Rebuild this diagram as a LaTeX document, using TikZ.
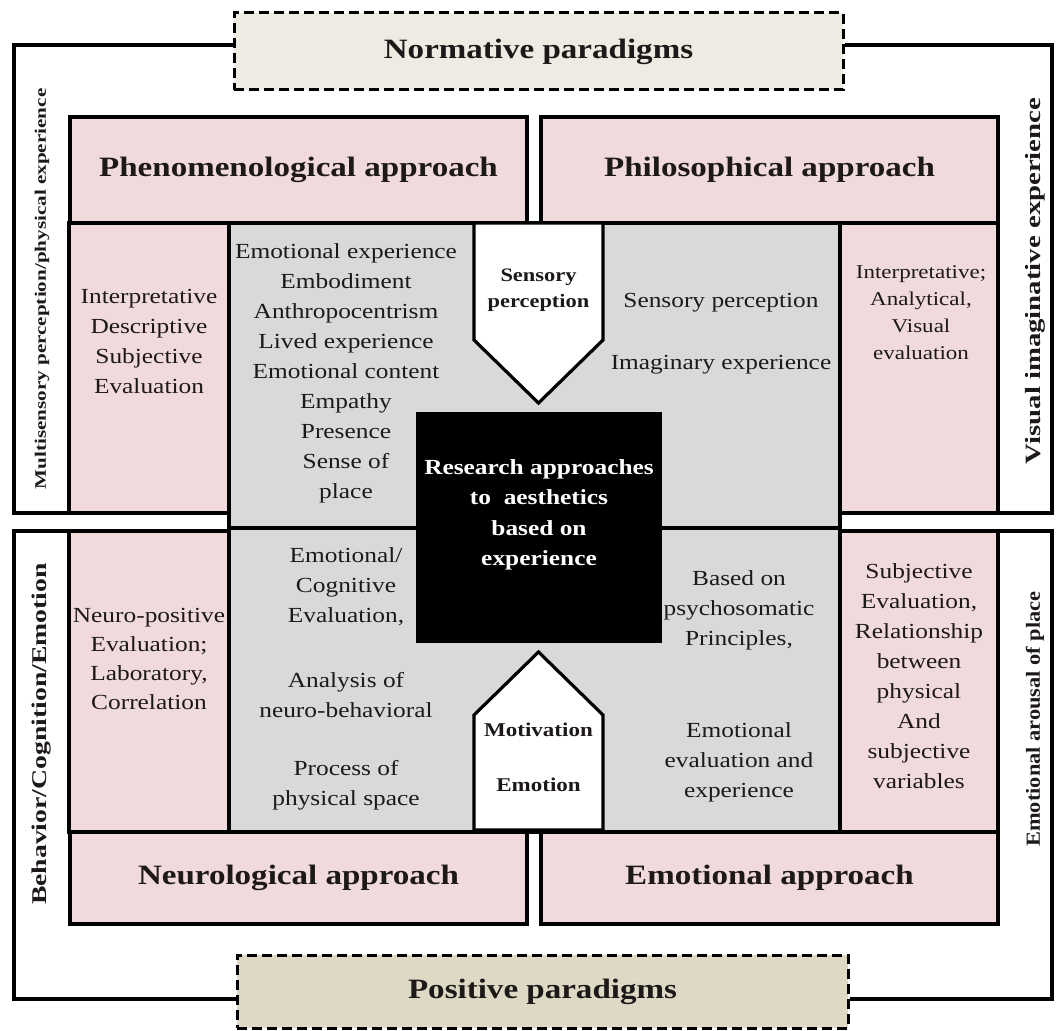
\documentclass[tikz,border=0pt]{standalone}
\usepackage{fontspec}
\setmainfont{Liberation Serif}[FakeStretch=1.18]
\newfontfamily\sidefont{Liberation Serif}[FakeStretch=1.32]
\newfontfamily\sidefontn{Liberation Serif}[FakeStretch=1.12]
\definecolor{pnkcol}{RGB}{240,218,219}
\definecolor{grycol}{RGB}{217,217,217}
\definecolor{normcol}{RGB}{238,236,226}
\definecolor{posicol}{RGB}{221,217,197}
\definecolor{ink}{RGB}{30,25,25}

\begin{document}
\begin{tikzpicture}
      [x=1pt,y=-1pt
      ,ln/.style={line width=3.2pt,line join=miter}
      ,frm/.style={ln,draw=black}
      ,pnk/.style={ln,draw=black,fill=pnkcol}
      ,gry/.style={ln,draw=black,fill=grycol}
      ,arw/.style={ln,draw=black,fill=white}
      ,dsh/.style={line width=3pt,draw=black,dash pattern=on 10pt off 5pt}
      ,ttl/.style={pnk,font=\fontsize{28}{34}\selectfont\bfseries,text=ink}
      ,txt/.style={font=\fontsize{21.5}{30}\selectfont,align=center,text=ink}
      ,side/.style={rotate=90,font=\sidefont\bfseries,text=ink}
      ]
        \useasboundingbox (0,0) rectangle (1056,1030);
        % grey centre field
        \draw[gry] (229,223) rectangle (840,832);
        \foreach \a/\b in {229/416,662/840}{
          \draw[frm] (\a,528) -- (\b,528);
        }
        % side columns
        \draw[pnk] (69,223) rectangle (229,513);
        \draw[pnk] (69,531) rectangle (229,832);
        \draw[pnk] (840,223) rectangle (998,513);
        \draw[pnk] (840,531) rectangle (998,832);
        % approach titles
        \node[ttl,minimum width=457,minimum height=106] (phen) at (298.5,170) {Phenomenological approach};
        \node[ttl,minimum width=457,minimum height=106] (phil) at (769.5,170) {Philosophical approach};
        \node[ttl,minimum width=457,minimum height=92] (neur) at (298.5,878) {Neurological approach};
        \node[ttl,minimum width=457,minimum height=92] (emot) at (769.5,878) {Emotional approach};
        % paradigms
        \node[dsh,fill=normcol,minimum width=609,minimum height=77,font=\fontsize{28}{34}\selectfont\bfseries,text=ink] (norm) at (538.5,51.5) {Normative paradigms};
        \node[dsh,fill=posicol,minimum width=611,minimum height=73,font=\fontsize{28}{34}\selectfont\bfseries,text=ink] (posi) at (542.5,991.5) {Positive paradigms};
        % brackets
        \draw[frm] (norm.west |- 14,45) -- (14,45) -- (14,513) -- (69,513);
        \draw[frm] (norm.east |- 14,45) -- (1052,45) -- (1052,513) -- (998,513);
        \draw[frm] (posi.west |- 14,999) -- (14,999) -- (14,531) -- (69,531);
        \draw[frm] (posi.east |- 14,999) -- (1052,999) -- (1052,531) -- (998,531);
        % centre
        \node[fill=black,minimum width=246,minimum height=231] (core) at (539,527.5) {};
        \node[font=\fontsize{21.5}{30.5}\selectfont\bfseries,align=center,text=white] (coretxt) at (539,515)
          {Research approaches\\to\ \ aesthetics\\based on\\experience};
        \draw[arw] (474,223) -- (603,223) -- (603,340) -- (538.5,403) -- (474,340) -- cycle;
        \draw[arw] (538.5,652) -- (603,715) -- (603,830) -- (474,830) -- (474,715) -- cycle;
        \node[font=\fontsize{19}{26}\selectfont\bfseries,align=center,text=ink] (sens) at (538.5,290) {Sensory\\perception};
        \node[font=\fontsize{19.5}{55}\selectfont\bfseries,align=center,text=ink] (motv) at (538.5,757.5) {Motivation\\Emotion};
        % texts
        \node[txt] (ulpk) at (149,341) {Interpretative\\Descriptive\\Subjective\\Evaluation};
        \node[txt] (ulgy) at (346,373.5) {Emotional experience\\Embodiment\\Anthropocentrism\\Lived experience\\Emotional content\\Empathy\\Presence\\Sense of\\place};
        \node[txt,font=\fontsize{21.5}{62}\selectfont] (urgy) at (721,334) {Sensory perception\\Imaginary experience};
        \node[txt,font=\fontsize{19.5}{27}\selectfont] (urpk) at (921,313) {Interpretative;\\Analytical,\\Visual\\evaluation};
        \node[txt,font=\fontsize{21.5}{29.3}\selectfont] (llpk) at (149,659) {Neuro-positive\\Evaluation;\\Laboratory,\\Correlation};
        \node[txt] (llgya) at (346,587) {Emotional/\\Cognitive\\Evaluation,};
        \node[txt] (llgyb) at (346,695) {Analysis of\\neuro-behavioral};
        \node[txt] (llgyc) at (346,785) {Process of\\physical space};
        \node[txt] (lrgya) at (739,610) {Based on\\psychosomatic\\Principles,};
        \node[txt] (lrgyb) at (739,762) {Emotional\\evaluation and\\experience};
        \node[txt] (lrpk) at (919,676) {Subjective\\Evaluation,\\Relationship\\between\\physical\\And\\subjective\\variables};
        % axis labels
        \node[side,font=\fontsize{16}{18}\sidefont\bfseries] (lup) at (42,289) {Multisensory perception/physical experience};
        \node[side,font=\fontsize{21}{24}\sidefont\bfseries] (llo) at (42,734) {Behavior/Cognition/Emotion};
        \node[side,font=\fontsize{21.8}{24}\sidefont\bfseries] (rup) at (1035,281) {Visual imaginative experience};
        \node[side,font=\fontsize{20}{24}\sidefontn\bfseries] (rlo) at (1035,719) {Emotional arousal of place};
      \end{tikzpicture}
\end{document}
